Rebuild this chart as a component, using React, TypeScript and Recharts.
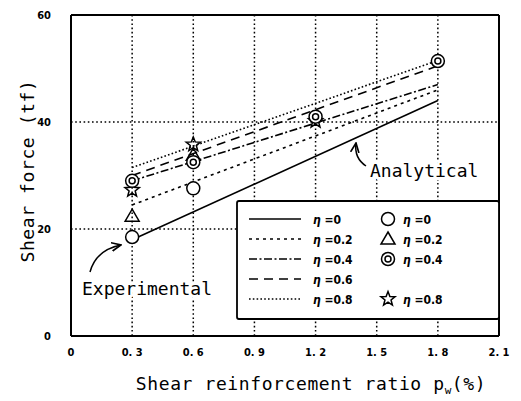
import React from 'react';
import { ComposedChart, Line, Scatter, XAxis, YAxis, CartesianGrid } from 'recharts';

const xTicks = [0, 0.3, 0.6, 0.9, 1.2, 1.5, 1.8, 2.1];
const xTickLabels = ['0', '0. 3', '0. 6', '0. 9', '1. 2', '1. 5', '1. 8', '2. 1'];
const yTicks = [0, 20, 40, 60];

// analytical lines, end points at p_w = 0.3 and 1.8
const lineX = [0.3, 1.8];
const eta00Line = [18, 44];
const eta02Line = [24.5, 46];
const eta04Line = [29, 47];
const eta06Line = [30, 50.5];
const eta08Line = [31.5, 51.5];

// experimental results
const eta00ExpX = [0.3, 0.6];
const eta00ExpY = [18.5, 27.6];
const eta02ExpX = [0.3, 0.6];
const eta02ExpY = [22.4, 33.8];
const eta04ExpX = [0.3, 0.6, 1.2, 1.8];
const eta04ExpY = [29, 32.5, 41, 51.4];
const eta08ExpX = [0.3, 0.6, 1.2];
const eta08ExpY = [27.3, 35.8, 40.2];

const legendEta = ['0', '0.2', '0.4', '0.6', '0.8'];

const pts = (xs: number[], ys: number[]) => xs.map((x, i) => ({ x, y: ys[i] }));

const MONO = "'DejaVu Sans Mono', monospace";
const NUM = "'DejaVu Sans Condensed', 'DejaVu Sans', sans-serif";

const dashes = [undefined, '3 4', '8 2.5 2 2.5', '9 6', '1.6 2.2'];
const markerKinds = ['circle', 'triangle', 'double', null, 'star'];

function starPath(cx: number, cy: number, ro: number, ri: number) {
  let d = '';
  for (let i = 0; i < 10; i++) {
    const r = i % 2 === 0 ? ro : ri;
    const a = -Math.PI / 2 + (i * Math.PI) / 5;
    d += (i === 0 ? 'M' : 'L') + (cx + r * Math.cos(a)).toFixed(2) + ',' + (cy + r * Math.sin(a)).toFixed(2);
  }
  return d + 'Z';
}

const MarkerShape = ({ kind, cx, cy }: { kind: string | null; cx: number; cy: number }) => {
  const s = { stroke: '#000', strokeWidth: 1.5 };
  if (kind === 'circle') return <circle cx={cx} cy={cy} r={6.5} fill="#fff" {...s} />;
  if (kind === 'triangle')
    return <path d={`M${cx},${cy - 7} L${cx + 7},${cy + 5} L${cx - 7},${cy + 5} Z`} fill="none" {...s} />;
  if (kind === 'double')
    return (
      <g>
        <circle cx={cx} cy={cy} r={6.5} fill="#fff" {...s} />
        <circle cx={cx} cy={cy} r={3} fill="none" {...s} />
      </g>
    );
  if (kind === 'star') return <path d={starPath(cx, cy, 7.5, 3.2)} fill="none" {...s} />;
  return null;
};

const shapeOf = (kind: string) => (p: any) => <MarkerShape kind={kind} cx={p.cx} cy={p.cy} />;

const halo = { paintOrder: 'stroke' as const, stroke: '#fff', strokeWidth: 6, strokeLinejoin: 'round' as const };
const tickStyle = { fill: '#000', fontSize: 11, fontWeight: 700, fontFamily: NUM };

export default function App() {
  const lines = [eta00Line, eta02Line, eta04Line, eta06Line, eta08Line];

  return (
    <div style={{ position: 'absolute', left: 0, top: 0, width: 521, height: 401, background: '#fff' }}>
      <ComposedChart width={521} height={401} margin={{ top: 15, right: 22, bottom: 35, left: 41 }}>
        <CartesianGrid stroke="#000" strokeWidth={1.5} strokeDasharray="1.6 2.6" />
        <XAxis
          dataKey="x"
          type="number"
          domain={[0, 2.1]}
          ticks={xTicks}
          height={30}
          stroke="#000"
          axisLine={{ stroke: '#000', strokeWidth: 2 }}
          tickLine={false}
          tickMargin={6}
          tickFormatter={(v: number, i: number) => xTickLabels[i]}
          tick={tickStyle}
        />
        <XAxis
          xAxisId="bt"
          type="number"
          domain={[0, 2.1]}
          ticks={xTicks}
          allowDataOverflow
          mirror
          axisLine={false}
          tick={false}
          tickSize={6}
          tickLine={{ stroke: '#000', strokeWidth: 1.5 }}
        />
        <XAxis
          xAxisId="top"
          orientation="top"
          type="number"
          domain={[0, 2.1]}
          ticks={xTicks}
          allowDataOverflow
          mirror
          axisLine={{ stroke: '#000', strokeWidth: 2 }}
          tick={false}
          tickSize={8}
          tickLine={{ stroke: '#000', strokeWidth: 1.5 }}
        />
        <YAxis
          type="number"
          domain={[0, 60]}
          ticks={yTicks}
          width={30}
          stroke="#000"
          axisLine={{ stroke: '#000', strokeWidth: 2 }}
          tickLine={false}
          tickMargin={14}
          tick={tickStyle}
        />
        <YAxis
          yAxisId="right"
          orientation="right"
          type="number"
          domain={[0, 60]}
          ticks={yTicks}
          allowDataOverflow
          mirror
          axisLine={{ stroke: '#000', strokeWidth: 2 }}
          tick={false}
          tickSize={6}
          tickLine={{ stroke: '#000', strokeWidth: 1.5 }}
        />
        {lines.map((ys, i) => (
          <Line
            key={i}
            data={pts(lineX, ys)}
            dataKey="y"
            stroke="#000"
            strokeWidth={1.6}
            strokeDasharray={dashes[i]}
            dot={false}
            activeDot={false}
            isAnimationActive={false}
          />
        ))}
        <Scatter data={pts(eta08ExpX, eta08ExpY)} dataKey="y" shape={shapeOf('star')} isAnimationActive={false} />
        <Scatter data={pts(eta02ExpX, eta02ExpY)} dataKey="y" shape={shapeOf('triangle')} isAnimationActive={false} />
        <Scatter data={pts(eta04ExpX, eta04ExpY)} dataKey="y" shape={shapeOf('double')} isAnimationActive={false} />
        <Scatter data={pts(eta00ExpX, eta00ExpY)} dataKey="y" shape={shapeOf('circle')} isAnimationActive={false} />
      </ComposedChart>

      <svg width={521} height={401} style={{ position: 'absolute', left: 0, top: 0, pointerEvents: 'none' }}>
        <defs>
          <marker id="arr" viewBox="0 0 10 10" refX="9" refY="5" markerWidth="7" markerHeight="7" orient="auto">
            <path d="M0,1 L9,5 L0,9" fill="none" stroke="#000" strokeWidth={1.6} />
          </marker>
        </defs>

        {/* annotations */}
        <text x={370} y={177} fontFamily={MONO} fontSize={18} fill="#000" style={halo}>
          Analytical
        </text>
        <path d="M366,166 Q354,158 356,143" fill="none" stroke="#000" strokeWidth={1.5} markerEnd="url(#arr)" />
        <text x={82} y={295} fontFamily={MONO} fontSize={18} fill="#000" style={halo}>
          Experimental
        </text>
        <path d="M90,272 Q96,250 121,245" fill="none" stroke="#000" strokeWidth={1.5} markerEnd="url(#arr)" />

        {/* legend */}
        <rect x={237} y={201} width={262} height={118} rx={2} fill="#fff" stroke="#000" strokeWidth={1.8} />
        {legendEta.map((eta, i) => {
          const y = 219 + i * 20;
          const kind = markerKinds[i];
          return (
            <g key={eta}>
              <line x1={249} x2={301} y1={y} y2={y} stroke="#000" strokeWidth={1.6} strokeDasharray={dashes[i]} />
              <text x={313} y={y + 4.5} fontFamily={NUM} fontSize={12} fontWeight={700} fill="#000">
                <tspan fontStyle="italic">η</tspan> =0{eta === '0' ? '' : eta.slice(1)}
              </text>
              {kind && <MarkerShape kind={kind} cx={388} cy={y} />}
              {kind && (
                <text x={403} y={y + 4.5} fontFamily={NUM} fontSize={12} fontWeight={700} fill="#000">
                  <tspan fontStyle="italic">η</tspan> =0{eta === '0' ? '' : eta.slice(1)}
                </text>
              )}
            </g>
          );
        })}

        {/* axis titles */}
        <text
          x={27}
          y={171}
          transform="rotate(-90 27 171)"
          textAnchor="middle"
          dominantBaseline="central"
          fontFamily={MONO}
          fontSize={18}
          letterSpacing={0.6}
          fill="#000"
        >
          Shear force (tf)
        </text>
        <text x={311} y={390} textAnchor="middle" fontFamily={MONO} fontSize={18} letterSpacing={0.6} fill="#000">
          Shear reinforcement ratio p
          <tspan fontSize={11} dy={4}>w</tspan>
          <tspan dy={-4}>(%)</tspan>
        </text>
      </svg>
    </div>
  );
}
